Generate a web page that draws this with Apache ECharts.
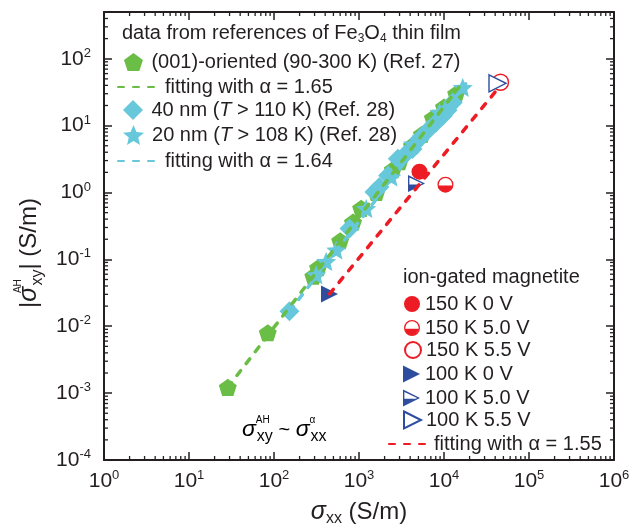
<!DOCTYPE html>
<html>
<head>
<meta charset="utf-8">
<title>sigma_xy vs sigma_xx</title>
<script src="https://cdn.jsdelivr.net/npm/echarts@6/dist/echarts.min.js"></script>
<style>
  html, body { margin: 0; padding: 0; background: #fff; }
  #chart { width: 635px; height: 532px; }
</style>
</head>
<body>
<div id="chart"></div>
<script>
// values: [sigma_xx, |sigma_xy^AH|] in S/m
const ref27_001 = [[28.6, 0.00122], [84.5, 0.0080], [290, 0.056], [330, 0.075], [600, 0.19], [850, 0.36],
  [1060, 0.58], [1600, 1.0], [2500, 2.2], [3000, 2.9], [4200, 5.0], [5500, 7.4], [7400, 13], [10000, 19], [13900, 30]];
const ref28_40nm = [[152, 0.0168], [773, 0.29], [1520, 1.02], [1740, 1.21], [2200, 1.8], [2860, 3.19], [3500, 3.7],
  [4260, 4.49], [5150, 6.3], [6500, 8.6], [8000, 11], [9680, 14], [11000, 17], [12700, 22.2]];
const ref28_20nm = [[314, 0.0589], [411, 0.0931], [540, 0.138], [1216, 0.576], [2400, 1.7], [4300, 5.33], [8850, 15.8], [16600, 37.1]];
const fit165 = [[28.6, 0.00122], [15000, 37.5]];
const fit164 = [[152, 0.0168], [18000, 42]];

const k150_0V = [[5150, 2.05]];
const k150_50V = [[10400, 1.31]];
const k150_55V = [[46200, 44.5]];
const k100_0V = [[450, 0.0304]];
const k100_50V = [[4750, 1.36]];
const k100_55V = [[42600, 43]];
const fit155 = [[450, 0.0304], [46000, 39.6]];

// axes
const xMin = 1, xMax = 1e6;
const yMin = 1e-4, yMax = 500;
const xDecades = [0, 1, 2, 3, 4, 5, 6];
const yDecades = [-4, -3, -2, -1, 0, 1, 2];

const FONT = "'Liberation Sans', Arial, Helvetica, sans-serif";
const INK = '#231f20';
const GREEN = '#6abd45', CYAN = '#66c8da', RED = '#ed1c24', BLUE = '#2e4d9f';

// minor ticks at 2..9 x 10^n
function minors(decs, top) {
  const out = [];
  decs.forEach(e => {
    for (let m = 2; m <= 9; m++) {
      const v = m * Math.pow(10, e);
      if (v < top) out.push(v);
    }
  });
  return out;
}
const xMinor = minors(xDecades.slice(0, -1), xMax);
const yMinor = minors(yDecades, yMax);

const N = {
  pent: '(001)-oriented (90-300 K) (Ref. 27)',
  f165: 'fitting with α = 1.65',
  d40: '40 nm (T > 110 K) (Ref. 28)',
  s20: '20 nm (T > 108 K) (Ref. 28)',
  f164: 'fitting with α = 1.64',
  c0: '150 K 0 V', c50: '150 K 5.0 V', c55: '150 K 5.5 V',
  t0: '100 K 0 V', t50: '100 K 5.0 V', t55: '100 K 5.5 V',
  f155: 'fitting with α = 1.55'
};

const PENT = 'path://M10,0 L19.51,6.91 L15.88,18.09 L4.12,18.09 L0.49,6.91 Z';
const STAR = 'path://M10,0 L12.65,6.36 L19.51,6.91 L14.28,11.39 L15.88,18.09 L10,14.5 L4.12,18.09 L5.72,11.39 L0.49,6.91 L7.35,6.36 Z';
const DIAMOND = 'path://M10,0 L20,10 L10,20 L0,10 Z';
const TRI = 'path://M0,0 L20,10 L0,20 Z';
// ring + lower half (nonzero winding leaves the upper half open)
const HALF_CIRCLE = 'path://M10,0 A10,10 0 1,1 10,20 A10,10 0 1,1 10,0 Z ' +
  'M10,1.6 A8.4,8.4 0 1,0 10,18.4 A8.4,8.4 0 1,0 10,1.6 Z ' +
  'M1.66,11 L18.34,11 A8.4,8.4 0 0,1 1.66,11 Z';
const HALF_TRI = 'path://M0,0 L20,10 L0,20 Z M1.6,3 L1.6,17 L16.6,10 Z M1.6,11 L14.6,11 L1.6,17 Z';

function tickLabel(v) {
  const e = Math.log10(v);
  const r = Math.round(e);
  if (Math.abs(e - r) > 1e-6) return '';
  return '{b|10}{p|' + r + '}';
}
const tickRich = {
  b: { fontSize: 21, fontFamily: FONT, color: INK, lineHeight: 24 },
  p: { fontSize: 13, fontFamily: FONT, color: INK, lineHeight: 17, verticalAlign: 'top' }
};

function axis(pos, isX, main) {
  return {
    type: 'log', logBase: 10, position: pos,
    min: isX ? xMin : yMin, max: isX ? xMax : yMax,
    axisLine: { lineStyle: { color: INK, width: 2 } },
    axisTick: { inside: true, length: 8, lineStyle: { color: INK, width: 1.5 } },
    axisLabel: { show: main, margin: isX ? 9 : 13, formatter: tickLabel, rich: tickRich },
    splitLine: { show: false }, minorTick: { show: false }
  };
}

const xMain = axis('bottom', true, true);
xMain.name = '{s|σ}{sub|xx}{n| (S/m)}';
xMain.nameLocation = 'middle';
xMain.nameGap = 37;
xMain.nameTextStyle = {
  rich: {
    s: { fontSize: 25, fontStyle: 'italic', fontFamily: FONT, color: INK, lineHeight: 30 },
    sub: { fontSize: 16, fontFamily: FONT, color: INK, lineHeight: 14, verticalAlign: 'bottom' },
    n: { fontSize: 24, fontFamily: FONT, color: INK, lineHeight: 30 }
  }
};
const yMain = axis('left', false, true);
yMain.name = '{n||}{s|σ}{sup|AH}{sub|xy}{n|| (S/m)}';
yMain.nameLocation = 'middle';
yMain.nameGap = 58;
yMain.nameTextStyle = {
  padding: [0, 34, 0, 0],
  rich: {
    n: { fontSize: 24, fontFamily: FONT, color: INK, lineHeight: 32 },
    s: { fontSize: 25, fontStyle: 'italic', fontFamily: FONT, color: INK, lineHeight: 32 },
    sup: { fontSize: 10, fontFamily: FONT, color: INK, lineHeight: 13, verticalAlign: 'top', width: 1 },
    sub: { fontSize: 16, fontFamily: FONT, color: INK, lineHeight: 24, verticalAlign: 'bottom' }
  }
};

function dashed(name, data, color) {
  return {
    type: 'line', name, data, symbol: 'none', showSymbol: false, silent: true,
    itemStyle: { color, opacity: 0 },
    lineStyle: { color, width: 3.5, type: [6, 9], cap: 'round' }
  };
}
function dots(name, data, symbol, size, style) {
  return {
    type: 'scatter', name, data, symbol, symbolSize: size, symbolKeepAspect: true,
    itemStyle: Object.assign({ opacity: 1 }, style), silent: true
  };
}

function minorX(params, api) {
  const v = api.value(0);
  const b = api.coord([v, yMin]), t = api.coord([v, yMax]);
  const st = { stroke: INK, lineWidth: 1.3 };
  return { type: 'group', children: [
    { type: 'line', shape: { x1: b[0], y1: b[1], x2: b[0], y2: b[1] - 4 }, style: st },
    { type: 'line', shape: { x1: t[0], y1: t[1], x2: t[0], y2: t[1] + 4 }, style: st }
  ] };
}
function minorY(params, api) {
  const v = api.value(1);
  const l = api.coord([xMin, v]), r = api.coord([xMax, v]);
  const st = { stroke: INK, lineWidth: 1.3 };
  return { type: 'group', children: [
    { type: 'line', shape: { x1: l[0], y1: l[1], x2: l[0] + 4, y2: l[1] }, style: st },
    { type: 'line', shape: { x1: r[0], y1: r[1], x2: r[0] - 4, y2: r[1] }, style: st }
  ] };
}

const series = [
  dashed(N.f165, fit165, GREEN),
  dots(N.pent, ref27_001, PENT, 18, { color: GREEN }),
  dashed(N.f164, fit164, CYAN),
  dots(N.d40, ref28_40nm, DIAMOND, 20, { color: CYAN }),
  dots(N.s20, ref28_20nm, STAR, 20, { color: CYAN }),
  dots(N.c0, k150_0V, 'circle', 16, { color: RED }),
  dots('', k150_50V, 'circle', 16, { color: '#fff' }),
  dots(N.c50, k150_50V, HALF_CIRCLE, 16, { color: RED }),
  dots(N.c55, k150_55V, 'circle', 16, { color: '#fff', borderColor: RED, borderWidth: 1.4 }),
  dots(N.t0, k100_0V, TRI, 17, { color: BLUE }),
  dots('', k100_50V, TRI, 17, { color: '#fff' }),
  dots(N.t50, k100_50V, HALF_TRI, 17, { color: BLUE }),
  dots(N.t55, k100_55V, TRI, 17, { color: '#fff', borderColor: BLUE, borderWidth: 1.4 }),
  dashed(N.f155, fit155, RED),
  { type: 'custom', silent: true, renderItem: minorX, data: xMinor.map(v => [v, yMin]), clip: false, z: 3 },
  { type: 'custom', silent: true, renderItem: minorY, data: yMinor.map(v => [xMin, v]), clip: false, z: 3 }
];

// one legend per row so each icon/text sits where it does in the figure
const legendRows = [
  [N.pent, 124, 52, 26, 18], [N.f165, 117, 77, 42, 18], [N.d40, 123, 100, 27, 20], [N.s20, 123, 125, 27, 20], [N.f164, 117, 151, 42, 18],
  [N.c0, 404, 294, 16, 18], [N.c50, 404, 318, 16, 18], [N.c55, 404, 340, 16, 18],
  [N.t0, 403, 364, 17, 18], [N.t50, 403, 388, 17, 18], [N.t55, 403, 410, 17, 18], [N.f155, 388, 434, 40, 18]
];
const legendText = {
  fontSize: 20, fontFamily: FONT, color: INK,
  rich: { i: { fontSize: 20, fontFamily: FONT, color: INK, fontStyle: 'italic' } }
};
const legend = legendRows.map(([name, left, top, w, h]) => ({
  data: [name], left, top, itemWidth: w, itemHeight: h, padding: 0,
  selectedMode: false, textStyle: legendText,
  formatter: n => n.replace('(T ', '({i|T} ')
}));

const subRich = {
  sub: { fontSize: 12, fontFamily: FONT, fill: INK, lineHeight: 7, verticalAlign: 'bottom' }
};
const formulaRich = {
  s: { fontSize: 23, fontStyle: 'italic', fontFamily: FONT, color: INK, lineHeight: 30 },
  sup: { fontSize: 10, fontFamily: FONT, color: INK, lineHeight: 9, verticalAlign: 'top', width: 1 },
  sub: { fontSize: 16, fontFamily: FONT, color: INK, lineHeight: 25, verticalAlign: 'bottom' },
  t: { fontSize: 20, fontFamily: FONT, color: INK, lineHeight: 30 }
};

const option = {
  animation: false,
  backgroundColor: '#fff',
  grid: { left: 104, right: 21, top: 12, bottom: 69 },
  xAxis: [xMain, axis('top', true, false)],
  yAxis: [yMain, axis('right', false, false)],
  legend,
  graphic: [
    { type: 'text', x: 122, y: 21, style: { text: 'data from references of Fe{sub|3}O{sub|4} thin film', rich: subRich,
      fontSize: 20, fontFamily: FONT, fill: INK, lineHeight: 24, verticalAlign: 'top' } },
    { type: 'text', x: 403, y: 265, style: { text: 'ion-gated magnetite', fontSize: 20, fontFamily: FONT, fill: INK, lineHeight: 24, verticalAlign: 'top' } },
    { type: 'text', x: 242, y: 415, style: { text: '{s|σ}{sup|AH}{sub|xy}{t| ~ }{s|σ}{sup|α}{sub|xx}', rich: formulaRich, verticalAlign: 'top' } }
  ],
  series
};

echarts.init(document.getElementById('chart')).setOption(option);
</script>
</body>
</html>
